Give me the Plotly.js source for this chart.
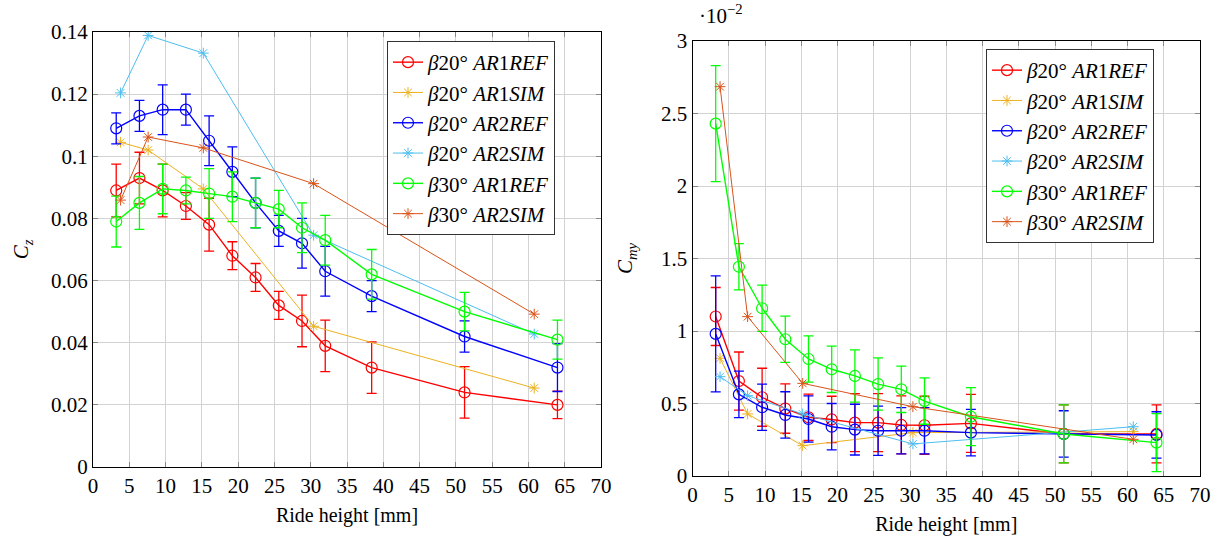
<!DOCTYPE html>
<html>
<head>
<meta charset="utf-8">
<script src="https://cdn.plot.ly/plotly-3.0.1.min.js"></script>
<style>html,body{margin:0;padding:0;background:#fff;}#chart{width:1223px;height:540px;}</style>
</head>
<body>
<div id="chart"></div>
<script>
// Ride heights [mm]
const xRef = [3.2, 6.4, 9.6, 12.8, 16, 19.2, 22.4, 25.6, 28.8, 32, 38.4, 51.2, 64];
const xSim = [3.8, 7.6, 15.2, 30.4, 60.8];

// Series names
const seriesNames = [
  "<i>β</i>20° <i>AR</i>1<i>REF</i>",
  "<i>β</i>20° <i>AR</i>1<i>SIM</i>",
  "<i>β</i>20° <i>AR</i>2<i>REF</i>",
  "<i>β</i>20° <i>AR</i>2<i>SIM</i>",
  "<i>β</i>30° <i>AR</i>1<i>REF</i>",
  "<i>β</i>30° <i>AR</i>2<i>SIM</i>"
];

// Cz
const czB20AR1Ref    = [0.089, 0.093, 0.089, 0.084, 0.078, 0.068, 0.061, 0.052, 0.047, 0.039, 0.032, 0.024, 0.020];
const czB20AR1RefErr = [0.0085, 0.0083, 0.0085, 0.0043, 0.0085, 0.0045, 0.0045, 0.0045, 0.0083, 0.0083, 0.0083, 0.0083, 0.0044];
const czB20AR1Sim    = [0.1045, 0.102, 0.0895, 0.0453, 0.0254];
const czB20AR2Ref    = [0.109, 0.113, 0.115, 0.115, 0.105, 0.095, 0.085, 0.076, 0.072, 0.063, 0.055, 0.042, 0.032];
const czB20AR2RefErr = [0.005, 0.005, 0.008, 0.005, 0.008, 0.008, 0.008, 0.005, 0.008, 0.008, 0.005, 0.005, 0.0077];
const czB20AR2Sim    = [0.1204, 0.1389, 0.1332, 0.0746, 0.0428];
const czB30AR1Ref    = [0.079, 0.085, 0.0895, 0.089, 0.088, 0.087, 0.085, 0.083, 0.077, 0.073, 0.062, 0.050, 0.041];
const czB30AR1RefErr = [0.0082, 0.0085, 0.008, 0.0043, 0.008, 0.008, 0.008, 0.006, 0.008, 0.008, 0.008, 0.0062, 0.0063];
const czB30AR2Sim    = [0.0859, 0.1062, 0.1027, 0.0912, 0.0492];

// Cmy (x 10^-2)
const cmyB20AR1Ref    = [1.10, 0.655, 0.543, 0.465, 0.405, 0.39, 0.368, 0.368, 0.352, 0.35, 0.363, 0.29, 0.29];
const cmyB20AR1RefErr = [0.2, 0.2, 0.2, 0.17, 0.16, 0.16, 0.2, 0.2, 0.2, 0.2, 0.2, 0.2, 0.2];
const cmyB20AR1Sim    = [0.812, 0.428, 0.209, 0.299, 0.306];
const cmyB20AR2Ref    = [0.98, 0.563, 0.474, 0.421, 0.393, 0.34, 0.32, 0.312, 0.312, 0.312, 0.299, 0.29, 0.283];
const cmyB20AR2RefErr = [0.4, 0.16, 0.16, 0.16, 0.16, 0.16, 0.175, 0.17, 0.16, 0.16, 0.16, 0.16, 0.16];
const cmyB20AR2Sim    = [0.685, 0.554, 0.428, 0.221, 0.34];
const cmyB30AR1Ref    = [2.43, 1.443, 1.157, 0.943, 0.807, 0.736, 0.69, 0.634, 0.598, 0.517, 0.409, 0.29, 0.23];
const cmyB30AR1RefErr = [0.4, 0.16, 0.16, 0.16, 0.16, 0.16, 0.18, 0.18, 0.16, 0.16, 0.2, 0.2, 0.2];
const cmyB30AR2Sim    = [2.685, 1.099, 0.639, 0.478, 0.253];

const colors = ["#ff0000", "#edb120", "#0000ff", "#4dbeee", "#00ff00", "#d95319"];
const FONT = "'Liberation Serif', 'DejaVu Serif', serif";

function refTrace(x, y, err, i, xa, ya, leg) {
  return {
    x: x, y: y, type: "scatter", mode: "lines+markers", name: seriesNames[i],
    xaxis: xa, yaxis: ya, legend: leg, showlegend: true,
    line: {color: colors[i], width: 1.4},
    marker: {symbol: "circle-open", size: 11, color: colors[i], line: {width: 1.2, color: colors[i]}},
    error_y: {type: "data", array: err, visible: true, color: colors[i], thickness: 1.3, width: 5}
  };
}
function simTrace(x, y, i, xa, ya, leg) {
  return {
    x: x, y: y, type: "scatter", mode: "lines+markers", name: seriesNames[i],
    xaxis: xa, yaxis: ya, legend: leg, showlegend: true,
    line: {color: colors[i], width: 1},
    marker: {symbol: "asterisk-open", size: 9, color: colors[i], line: {width: 1, color: colors[i]}}
  };
}

const data = [
  refTrace(xRef, czB20AR1Ref, czB20AR1RefErr, 0, "x", "y", "legend"),
  simTrace(xSim, czB20AR1Sim, 1, "x", "y", "legend"),
  refTrace(xRef, czB20AR2Ref, czB20AR2RefErr, 2, "x", "y", "legend"),
  simTrace(xSim, czB20AR2Sim, 3, "x", "y", "legend"),
  refTrace(xRef, czB30AR1Ref, czB30AR1RefErr, 4, "x", "y", "legend"),
  simTrace(xSim, czB30AR2Sim, 5, "x", "y", "legend"),
  refTrace(xRef, cmyB20AR1Ref, cmyB20AR1RefErr, 0, "x2", "y2", "legend2"),
  simTrace(xSim, cmyB20AR1Sim, 1, "x2", "y2", "legend2"),
  refTrace(xRef, cmyB20AR2Ref, cmyB20AR2RefErr, 2, "x2", "y2", "legend2"),
  simTrace(xSim, cmyB20AR2Sim, 3, "x2", "y2", "legend2"),
  refTrace(xRef, cmyB30AR1Ref, cmyB30AR1RefErr, 4, "x2", "y2", "legend2"),
  simTrace(xSim, cmyB30AR2Sim, 5, "x2", "y2", "legend2")
];

const W = 1223, H = 540;
function axisBase() {
  return {
    showline: true, linecolor: "#000", linewidth: 1, mirror: "allticks",
    ticks: "inside", ticklen: 5, tickcolor: "#888", tickwidth: 1,
    showgrid: true, gridcolor: "#d3d3d3", gridwidth: 1,
    zeroline: false, automargin: false,
    tickfont: {family: FONT, size: 21, color: "#000"}
  };
}
const xTitle = {text: "Ride height [mm]", font: {family: FONT, size: 20, color: "#000"}};

const layout = {
  width: W, height: H,
  margin: {l: 0, r: 0, t: 0, b: 0},
  paper_bgcolor: "#fff", plot_bgcolor: "#fff",
  font: {family: FONT, size: 20, color: "#000"},
  xaxis: Object.assign(axisBase(), {domain: [93/W, 601/W], range: [0, 70], dtick: 5, tick0: 0, anchor: "y",
    title: Object.assign({standoff: 10}, xTitle)}),
  yaxis: Object.assign(axisBase(), {domain: [1-467/H, 1-32/H], range: [0, 0.14], dtick: 0.02, tick0: 0, anchor: "x",
    title: {text: "<i>C</i><sub><i>z</i></sub>", font: {family: FONT, size: 21, color: "#000"}, standoff: 16}}),
  xaxis2: Object.assign(axisBase(), {domain: [692.5/W, 1200/W], range: [0, 70], dtick: 5, tick0: 0, anchor: "y2",
    title: Object.assign({standoff: 10}, xTitle)}),
  yaxis2: Object.assign(axisBase(), {domain: [1-476/H, 1-41/H], range: [0, 3], dtick: 0.5, tick0: 0, anchor: "x2",
    title: {text: "<i>C</i><sub><i>my</i></sub>", font: {family: FONT, size: 21, color: "#000"}, standoff: 22}}),
  legend: {x: 387/W, y: 1-41/H, xanchor: "left", yanchor: "top", bgcolor: "#fff", bordercolor: "#333", borderwidth: 1,
    font: {family: FONT, size: 21, color: "#000"}, tracegroupgap: 0},
  legend2: {x: 986/W, y: 1-49/H, xanchor: "left", yanchor: "top", bgcolor: "#fff", bordercolor: "#333", borderwidth: 1,
    font: {family: FONT, size: 21, color: "#000"}, tracegroupgap: 0},
  annotations: [
    {text: "·10<sup>−2</sup>", xref: "paper", yref: "paper", x: 697/W, y: 1-30/H, xanchor: "left", yanchor: "bottom",
     showarrow: false, font: {family: FONT, size: 21, color: "#000"}}
  ]
};

Plotly.newPlot("chart", data, layout, {displayModeBar: false, staticPlot: true});
</script>
</body>
</html>
